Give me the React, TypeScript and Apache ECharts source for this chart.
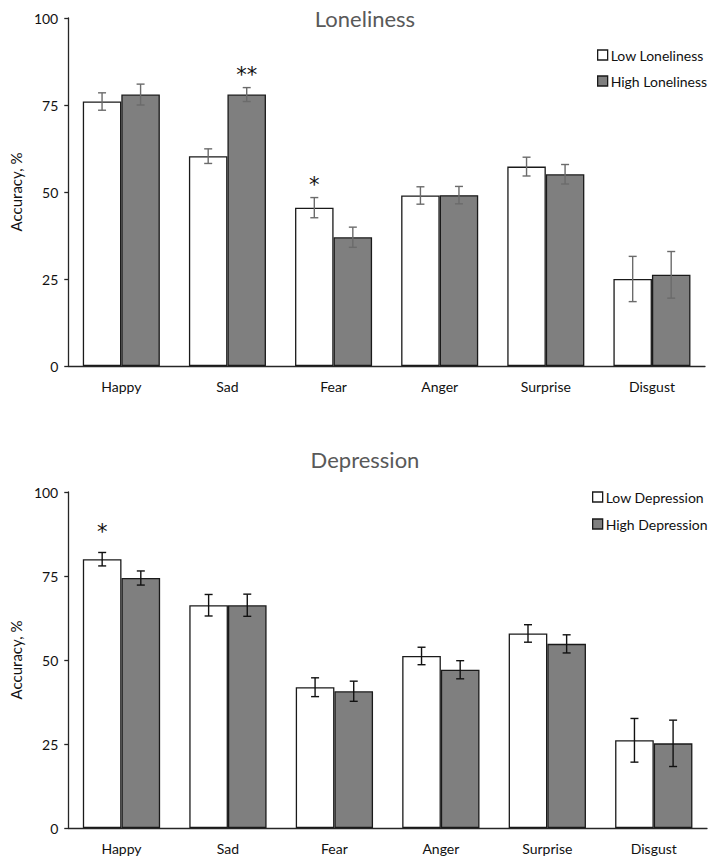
import React, { useEffect, useRef } from "react";
import * as echarts from "echarts";

const categories = ["Happy", "Sad", "Fear", "Anger", "Surprise", "Disgust"];
const yTicks = [0, 25, 50, 75, 100];

const lowLoneliness = [76, 60.3, 45.5, 49, 57.3, 25];
const lowLonelinessErr = [2.5, 2.1, 2.9, 2.5, 2.7, 6.5];
const highLoneliness = [78, 78, 37, 49.1, 55.1, 26.2];
const highLonelinessErr = [3, 2, 2.9, 2.5, 2.8, 6.7];

const lowDepression = [80, 66.3, 41.9, 51.2, 57.9, 26.1];
const lowDepressionErr = [2, 3.2, 2.8, 2.6, 2.6, 6.5];
const highDepression = [74.4, 66.3, 40.7, 47.1, 54.8, 25.2];
const highDepressionErr = [2.1, 3.3, 3, 2.7, 2.7, 6.9];

// significance marks: [category, series (0 = low, 1 = high), text]
const lonelinessMarks: [string, number, string][] = [
  ["Sad", 1, "**"],
  ["Fear", 0, "*"],
];
const depressionMarks: [string, number, string][] = [["Happy", 0, "*"]];

const BAR_FRAC = 0.363;
const FONT = "Lato, 'Open Sans', sans-serif";

function errSeries(
  name: string,
  grid: number,
  vals: number[],
  errs: number[],
  group: number,
  marks: [string, number, string][],
  color: string,
  markGap: number
) {
  return {
    type: "custom",
    name,
    xAxisIndex: grid,
    yAxisIndex: grid,
    z: 5,
    clip: false,
    silent: true,
    data: vals.map((v, i) => [i, v, errs[i]]),
    renderItem: (params: any, api: any) => {
      const i = api.value(0);
      const v = api.value(1);
      const e = api.value(2);
      const bandW = api.size([1, 0])[0];
      const bw = bandW * BAR_FRAC;
      const offset = (group === 0 ? -0.5 : 0.5) * bw;
      const top = api.coord([i, v + e]);
      const bot = api.coord([i, v - e]);
      const x = top[0] + offset;
      const cap = 4;
      const st = { stroke: color, lineWidth: 1.4 };
      const children: any[] = [
        { type: "line", shape: { x1: x, y1: top[1], x2: x, y2: bot[1] }, style: st },
        { type: "line", shape: { x1: x - cap, y1: top[1], x2: x + cap, y2: top[1] }, style: st },
        { type: "line", shape: { x1: x - cap, y1: bot[1], x2: x + cap, y2: bot[1] }, style: st },
      ];
      const cat = categories[params.dataIndex];
      marks
        .filter((m) => m[0] === cat && m[1] === group)
        .forEach((m) => {
          children.push({
            type: "text",
            x,
            y: top[1] - markGap,
            style: {
              text: m[2],
              fontSize: 21,
              fontFamily: "'DejaVu Sans', sans-serif",
              fill: "#111",
              align: "center",
              verticalAlign: "middle",
            },
          });
        });
      return { type: "group", children };
    },
  };
}

function barSeries(name: string, grid: number, vals: number[], color: string) {
  return {
    type: "bar",
    name,
    xAxisIndex: grid,
    yAxisIndex: grid,
    data: vals,
    barWidth: `${BAR_FRAC * 100}%`,
    barGap: "0%",
    itemStyle: { color, borderColor: "#1a1a1a", borderWidth: 1.3 },
  };
}

export default function App() {
  const ref = useRef<HTMLDivElement>(null);
  useEffect(() => {
    document.body.style.margin = "0";
    const chart = echarts.init(ref.current!, null, { renderer: "svg" });
    const axisLine = { show: true, lineStyle: { color: "#262626", width: 1.3 } };
    const xAxisBase = {
      type: "category",
      data: categories,
      axisLine,
      axisTick: { show: false },
      axisLabel: { color: "#111", fontSize: 14, fontFamily: FONT, margin: 13 },
    };
    const yAxisBase = (gap: number) => ({
      type: "value",
      min: 0,
      max: 100,
      interval: 25,
      name: "Accuracy, %",
      nameLocation: "middle",
      nameGap: gap,
      nameTextStyle: { color: "#111", fontSize: 15, fontFamily: FONT },
      axisLine,
      axisTick: { show: true, length: 4, lineStyle: { color: "#262626", width: 1.3 } },
      splitLine: { show: false },
      axisLabel: {
        color: "#111",
        fontSize: 14,
        fontFamily: FONT,
        margin: 10,
        customValues: yTicks,
      },
    });
    const legendBase = {
      orient: "vertical",
      padding: 0,
      icon: "rect",
      itemWidth: 10,
      itemHeight: 10,
      itemGap: 12,
      itemStyle: { borderColor: "#1a1a1a", borderWidth: 1.3 },
      textStyle: { color: "#111", fontSize: 14, fontFamily: FONT, padding: [0, 0, 0, -2] },
    };
    chart.setOption({
      animation: false,
      backgroundColor: "#fff",
      title: [
        {
          text: "Loneliness",
          left: 360,
          top: 2,
          textAlign: "center",
          textStyle: { color: "#595959", fontSize: 22, fontWeight: "normal", fontFamily: FONT },
        },
        {
          text: "Depression",
          left: 360,
          top: 443,
          textAlign: "center",
          textStyle: { color: "#595959", fontSize: 22, fontWeight: "normal", fontFamily: FONT },
        },
      ],
      legend: [
        {
          ...legendBase,
          left: 597,
          top: 48,
          data: ["Low Loneliness", "High Loneliness"],
        },
        {
          ...legendBase,
          left: 592,
          top: 490,
          itemGap: 13,
          data: ["Low Depression", "High Depression"],
        },
      ],
      grid: [
        { left: 52, right: 4, top: 18, height: 348 },
        { left: 49, right: 2, top: 492, height: 336 },
      ],
      xAxis: [
        { ...xAxisBase, gridIndex: 0 },
        { ...xAxisBase, gridIndex: 1 },
      ],
      yAxis: [
        { ...yAxisBase(35), gridIndex: 0 },
        { ...yAxisBase(32), gridIndex: 1 },
      ],
      series: [
        barSeries("Low Loneliness", 0, lowLoneliness, "#ffffff"),
        barSeries("High Loneliness", 0, highLoneliness, "#7f7f7f"),
        errSeries("errLL", 0, lowLoneliness, lowLonelinessErr, 0, lonelinessMarks, "#6b6b6b", 13),
        errSeries("errHL", 0, highLoneliness, highLonelinessErr, 1, lonelinessMarks, "#6b6b6b", 13),
        barSeries("Low Depression", 1, lowDepression, "#ffffff"),
        barSeries("High Depression", 1, highDepression, "#7f7f7f"),
        errSeries("errLD", 1, lowDepression, lowDepressionErr, 0, depressionMarks, "#111", 20),
        errSeries("errHD", 1, highDepression, highDepressionErr, 1, depressionMarks, "#111", 20),
      ],
    });
    return () => chart.dispose();
  }, []);
  return <div ref={ref} style={{ width: 709, height: 858 }} />;
}
